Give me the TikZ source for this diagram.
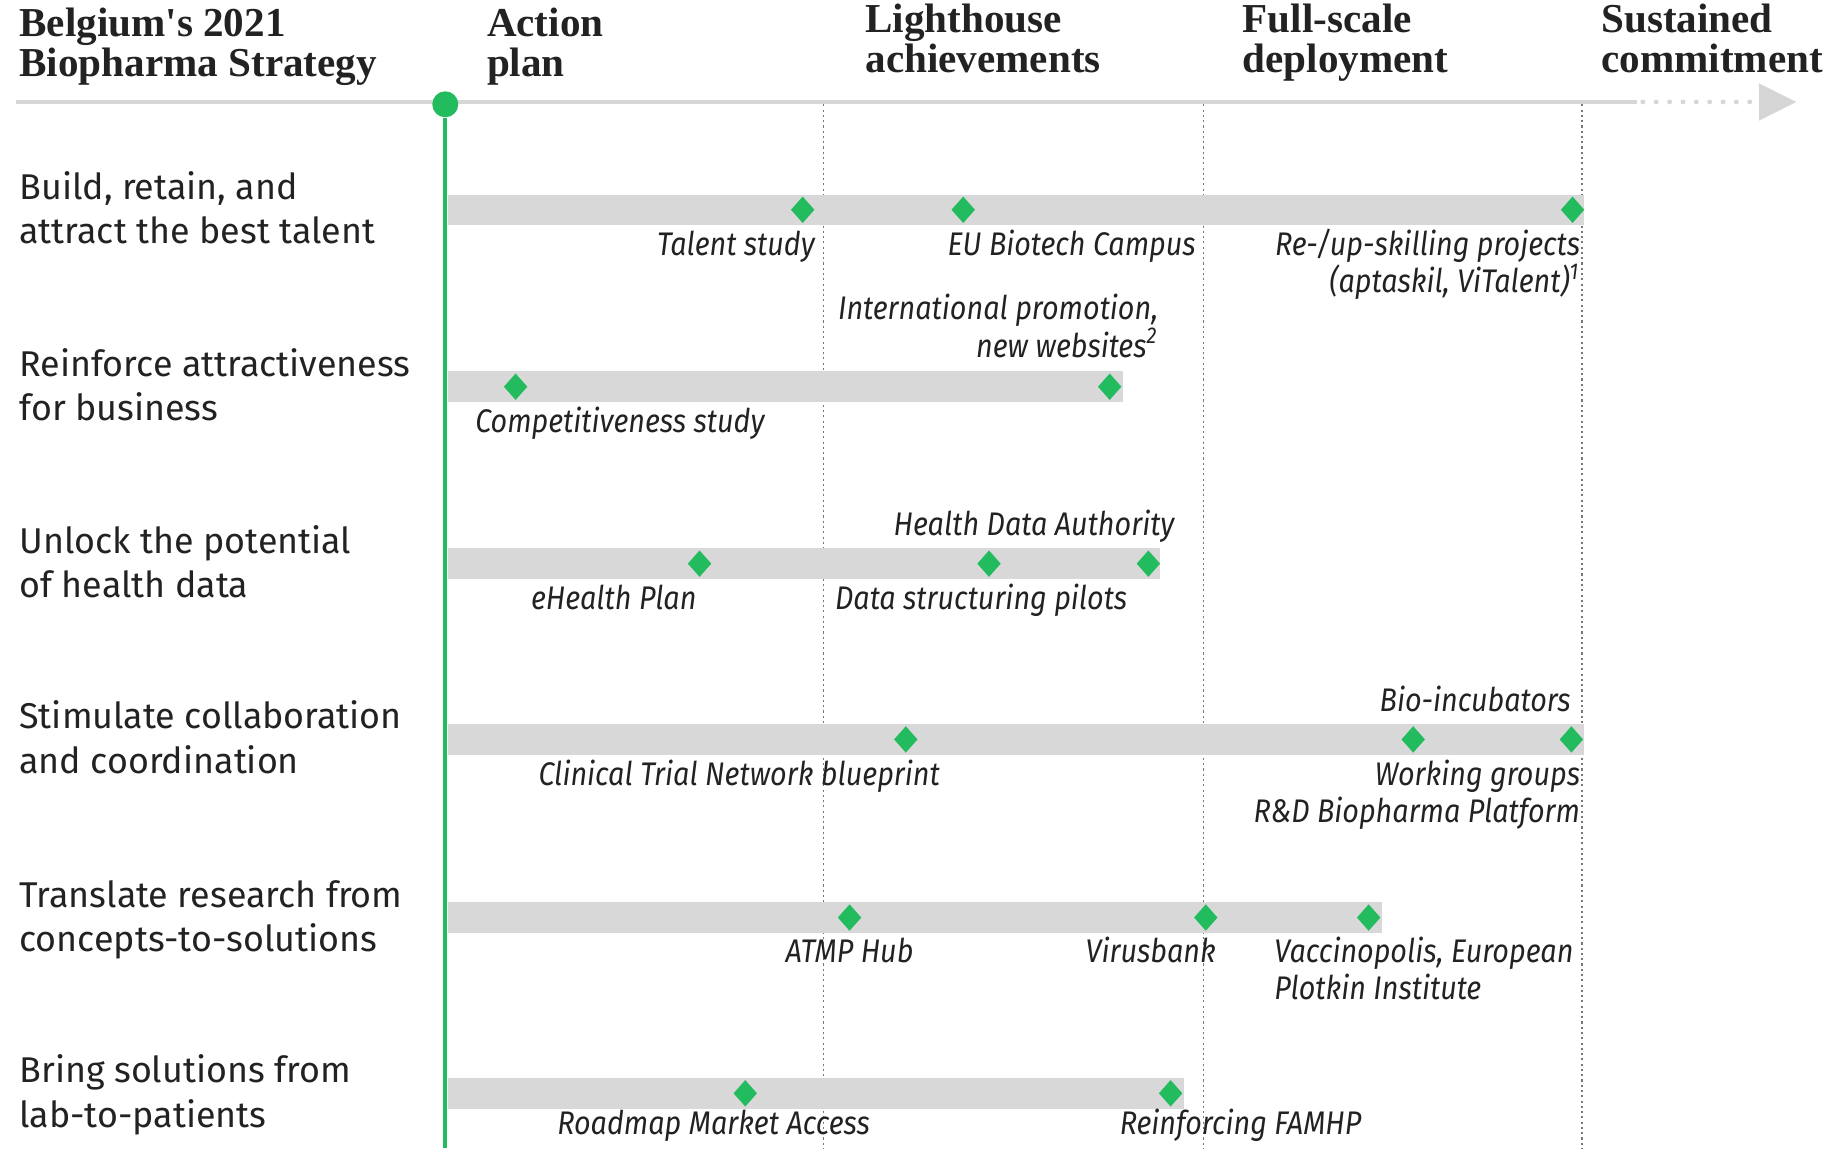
\documentclass[tikz,border=0pt]{standalone}
\usepackage{fontspec}
\setmainfont{Fira Sans}
\newfontfamily\headfont{Liberation Serif}
\newfontfamily\notefont[FakeStretch=0.88]{Fira Sans}
\usetikzlibrary{shapes.geometric}
\definecolor{msgreen}{RGB}{34,187,94}
\definecolor{bargray}{RGB}{216,216,216}
\definecolor{axisgray}{RGB}{214,214,214}
\definecolor{inkgray}{RGB}{34,34,34}
\definecolor{guidegray}{RGB}{120,120,120}
\tikzset{
  phase/.style={anchor=base west, align=left, inner sep=0pt, text=inkgray,
    font=\headfont\bfseries\fontsize{11.7}{11.4}\selectfont},
  goal/.style={anchor=base west, align=left, inner sep=0pt, text=inkgray,
    font=\fontsize{10.2}{12.67}\selectfont},
  note/.style={inner sep=0pt, text=inkgray, font=\notefont\itshape\fontsize{9.3}{10.67}\selectfont},
  milestone/.style={diamond, fill=msgreen, inner sep=0pt, minimum width=2.4mm, minimum height=2.7mm},
  bar/.style={fill=bargray},
  guide/.style={guidegray, line width=0.35pt, dash pattern=on 0.6pt off 0.9pt}
}
\begin{document}
\begin{tikzpicture}[x=0.1172mm, y=-0.1172mm]
    \useasboundingbox (0,0) rectangle (1560,980);
    % headings (anchored on their last line)
    \node[phase] (title) at (16,65) {Belgium's 2021\\Biopharma Strategy};
    \node[phase] (action) at (415,65) {Action\\plan};
    \node[phase] (lighthouse) at (738,62) {Lighthouse\\achievements};
    \node[phase] (fullscale) at (1060,62) {Full-scale\\deployment};
    \node[phase] (sustained) at (1366,62) {Sustained\\commitment};
    % time axis
    \draw [axisgray, line width=1.2pt] (14,87) -- (1397,87);
    \draw [axisgray, line width=1.4pt, line cap=round, dash pattern=on 0pt off 3.8pt] (1402,87) -- (1497,87);
    \fill [axisgray] (1501,71) -- (1533,87) -- (1501,103) -- cycle;
    \foreach \x in {703,1027,1350}
        \draw [guide] (\x,89) -- (\x,980);
    % bars
    \foreach \y/\e in {179/1352,330/958,481/990,631/1352,783/1179,933/1010}
        \fill [bar] (382,{\y-13}) rectangle (\e,{\y+13});
    \node[circle, fill=msgreen, inner sep=0pt, minimum size=2.6mm] (start) at (380,89) {};
    \coordinate (startend) at (380,980);
    \draw [msgreen, line width=1.1pt] (start) -- (startend);
    % goals
    \node[goal] (talentgoal) at (16,208) {Build, retain, and\\attract the best talent};
    \node[goal] (businessgoal) at (16,359) {Reinforce attractiveness\\for business};
    \node[goal] (datagoal) at (16,510) {Unlock the potential\\of health data};
    \node[goal] (collabgoal) at (16,660) {Stimulate collaboration\\and coordination};
    \node[goal] (researchgoal) at (16,812) {Translate research from\\concepts-to-solutions};
    \node[goal] (patientgoal) at (16,962) {Bring solutions from\\lab-to-patients};
    % milestones
    \node[milestone] (talent) at (685,179) {};
    \node[milestone] (campus) at (822,179) {};
    \node[milestone] (skills) at (1342,179) {};
    \node[milestone] (compet) at (440,330) {};
    \node[milestone] (promo) at (947,330) {};
    \node[milestone] (ehealth) at (597,481) {};
    \node[milestone] (pilots) at (844,481) {};
    \node[milestone] (hda) at (980,481) {};
    \node[milestone] (ctn) at (773,631) {};
    \node[milestone] (incub) at (1206,631) {};
    \node[milestone] (platform) at (1341,631) {};
    \node[milestone] (atmp) at (725,783) {};
    \node[milestone] (virus) at (1029,783) {};
    \node[milestone] (vacc) at (1168,783) {};
    \node[milestone] (roadmap) at (636,933) {};
    \node[milestone] (famhp) at (999,933) {};
    % notes
    \node[note, anchor=base east] (talentnote) at (696,218) {Talent study};
    \node[note, anchor=base west] (campusnote) at (808,218) {EU Biotech Campus};
    \node[note, anchor=base east, align=right] (skillsnote) at (1349,250) {Re-/up-skilling projects\\(aptaskil, ViTalent)\textsuperscript{1}};
    \node[note, anchor=base east, align=right] (promonote) at (989,305) {International promotion,\\new websites\textsuperscript{2}};
    \node[note, anchor=base west] (competnote) at (405,369) {Competitiveness study};
    \node[note, anchor=base west] (hdanote) at (762,457) {Health Data Authority};
    \node[note, anchor=base east] (ehealthnote) at (595,520) {eHealth Plan};
    \node[note, anchor=base west] (pilotsnote) at (712,520) {Data structuring pilots};
    \node[note, anchor=base east] (incubnote) at (1341,607) {Bio-incubators};
    \node[note, anchor=base west] (ctnnote) at (459,670) {Clinical Trial Network blueprint};
    \node[note, anchor=base east, align=right] (platformnote) at (1349,702) {Working groups\\R\&D Biopharma Platform};
    \node[note, anchor=base] (atmpnote) at (725,821) {ATMP Hub};
    \node[note, anchor=base] (virusnote) at (982,821) {Virusbank};
    \node[note, anchor=base west, align=left] (vaccnote) at (1087,853) {Vaccinopolis, European\\Plotkin Institute};
    \node[note, anchor=base west] (roadmapnote) at (475,968) {Roadmap Market Access};
    \node[note, anchor=base west] (famhpnote) at (955,968) {Reinforcing FAMHP};
\end{tikzpicture}
\end{document}
